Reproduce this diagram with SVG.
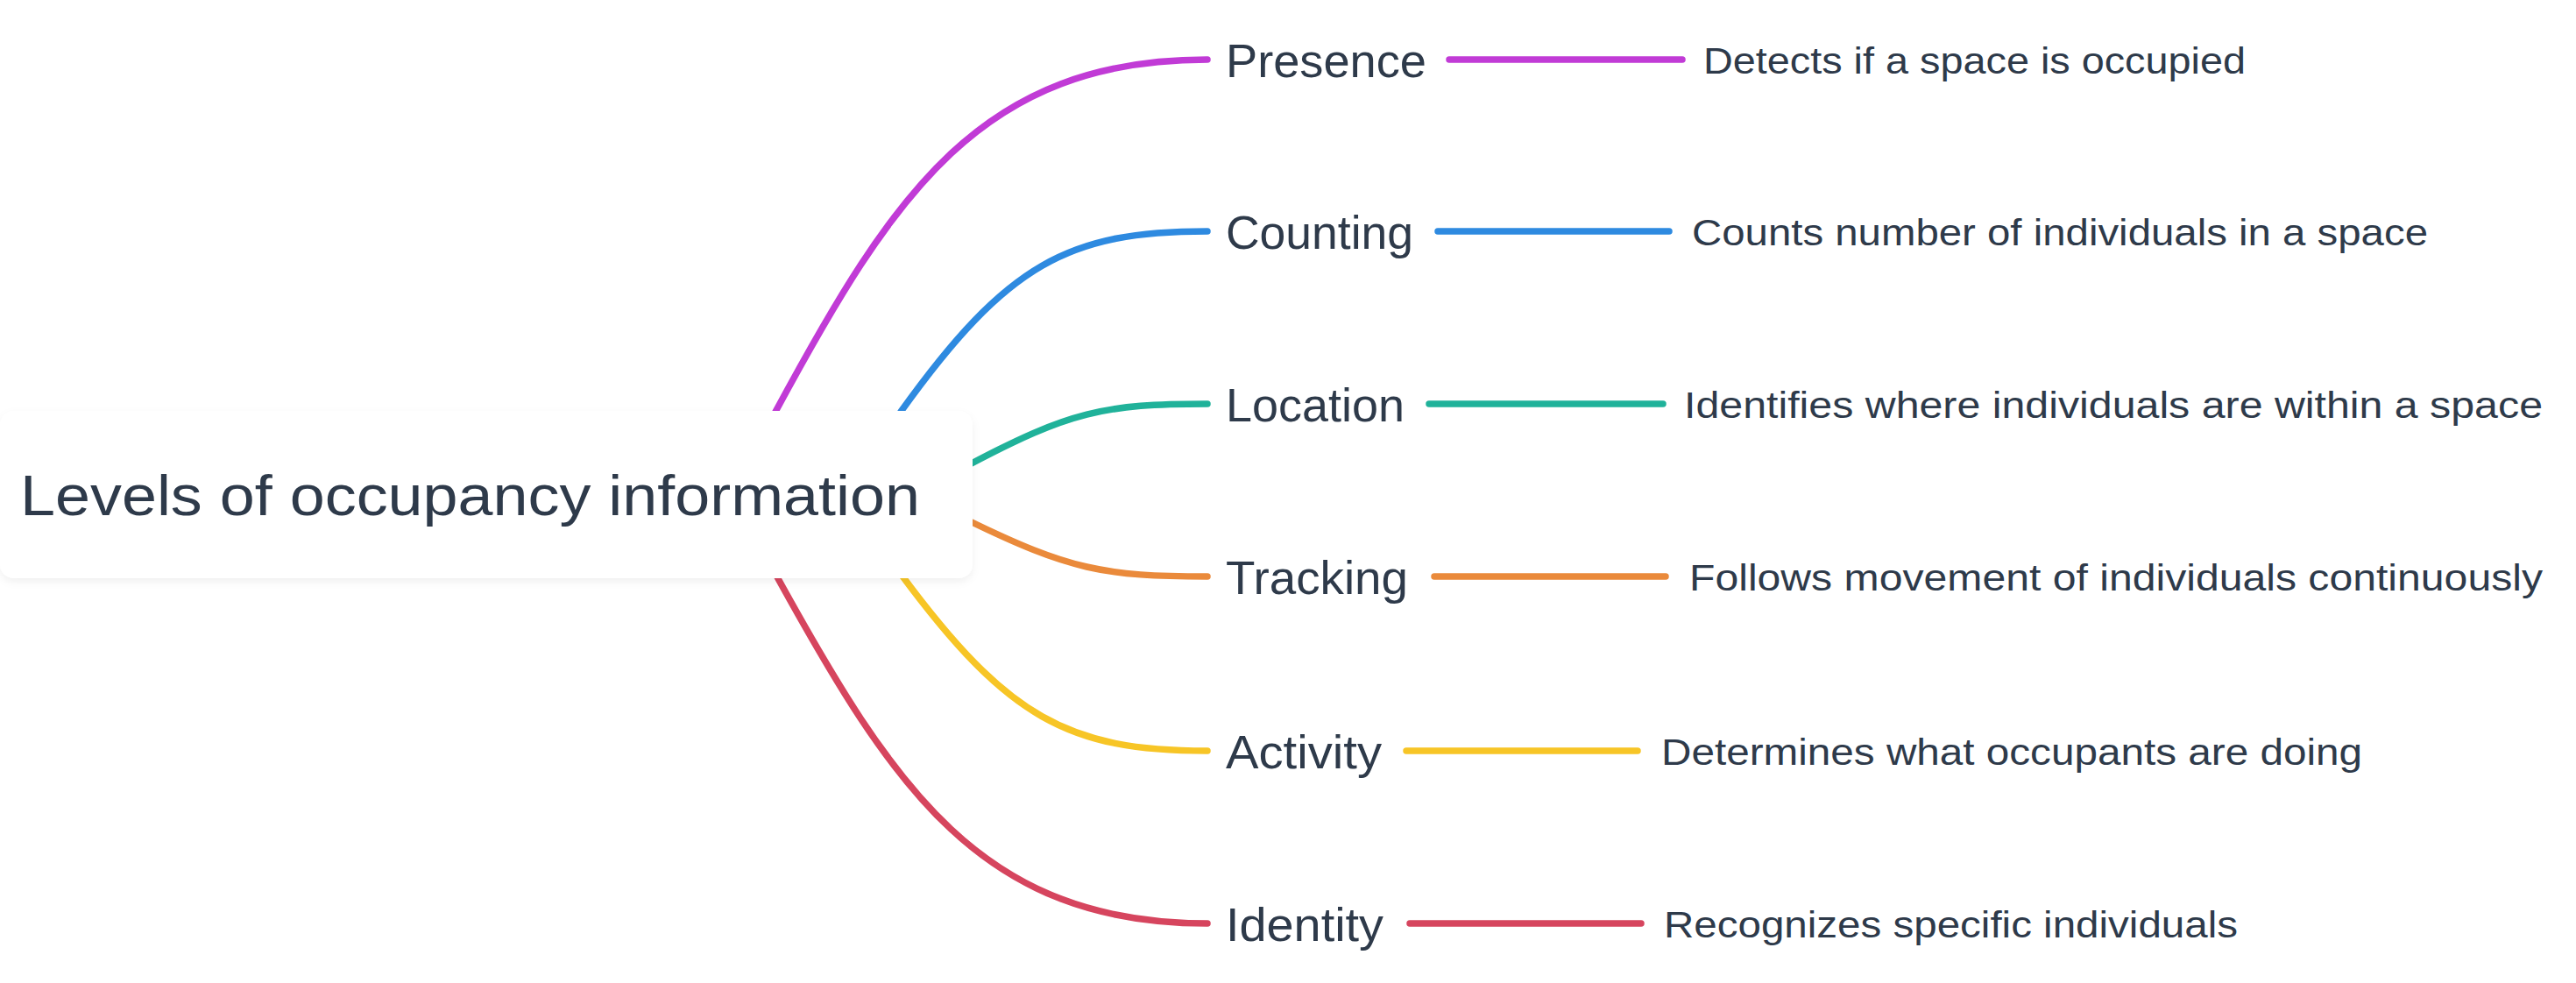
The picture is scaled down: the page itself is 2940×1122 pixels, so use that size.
<svg xmlns="http://www.w3.org/2000/svg" width="2940" height="1122" viewBox="0 0 2940 1122">
<style>
.c{fill:none;stroke-width:7.5;stroke-linecap:round}
.t{font-family:"Liberation Sans",Arial,sans-serif;fill:#2e3a4a}
.l{font-size:53px}
.d{font-size:43px}
</style>
<defs><filter id="sh" x="-5%" y="-10%" width="110%" height="130%"><feDropShadow dx="0" dy="4" stdDeviation="5" flood-color="#000" flood-opacity="0.06"/></filter></defs>
<rect width="2940" height="1122" fill="#fff"/>
<g id="connectors">
<path class="c" stroke="#c13bd6" d="M885 470 C1020 220 1120 68 1378 68 M1654 68 H1920"/>
<path class="c" stroke="#2e8ae0" d="M1028 470 C1150 300 1220 264 1378 264 M1641 264 H1905"/>
<path class="c" stroke="#20b29a" d="M1105 531 C1220 470 1260 461 1378 461 M1631 461 H1898"/>
<path class="c" stroke="#ea8a3b" d="M1105 594 C1220 650 1260 658 1378 658 M1637 658 H1901"/>
<path class="c" stroke="#f7c526" d="M1028 655 C1150 820 1220 857 1378 857 M1605 857 H1869"/>
<path class="c" stroke="#d6455e" d="M885 655 C1020 900 1120 1054 1378 1054 M1609 1054 H1873"/>
</g>
<g id="root"><rect x="0" y="469" width="1110" height="191" rx="16" fill="#fff" filter="url(#sh)"/>
<text class="t" x="23" y="588" font-size="64" textLength="1027" lengthAdjust="spacingAndGlyphs">Levels of occupancy information</text></g>
<g id="presence"><text class="t l" x="1399" y="88" textLength="229" lengthAdjust="spacingAndGlyphs">Presence</text><text class="t d" x="1944" y="84" textLength="619" lengthAdjust="spacingAndGlyphs">Detects if a space is occupied</text></g>
<g id="counting"><text class="t l" x="1399" y="284" textLength="214" lengthAdjust="spacingAndGlyphs">Counting</text><text class="t d" x="1931" y="280" textLength="840" lengthAdjust="spacingAndGlyphs">Counts number of individuals in a space</text></g>
<g id="location"><text class="t l" x="1399" y="481" textLength="204" lengthAdjust="spacingAndGlyphs">Location</text><text class="t d" x="1922" y="477" textLength="980" lengthAdjust="spacingAndGlyphs">Identifies where individuals are within a space</text></g>
<g id="tracking"><text class="t l" x="1399" y="678" textLength="208" lengthAdjust="spacingAndGlyphs">Tracking</text><text class="t d" x="1928" y="674" textLength="974" lengthAdjust="spacingAndGlyphs">Follows movement of individuals continuously</text></g>
<g id="activity"><text class="t l" x="1399" y="877" textLength="178" lengthAdjust="spacingAndGlyphs">Activity</text><text class="t d" x="1896" y="873" textLength="800" lengthAdjust="spacingAndGlyphs">Determines what occupants are doing</text></g>
<g id="identity"><text class="t l" x="1399" y="1074" textLength="180" lengthAdjust="spacingAndGlyphs">Identity</text><text class="t d" x="1899" y="1070" textLength="655" lengthAdjust="spacingAndGlyphs">Recognizes specific individuals</text></g>
</svg>
